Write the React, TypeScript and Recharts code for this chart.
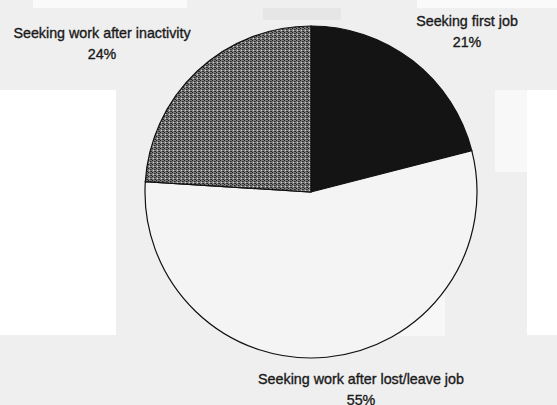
import React from "react";
import { PieChart, Pie, Cell } from "recharts";

const categories = [
  "Seeking first job",
  "Seeking work after lost/leave job",
  "Seeking work after inactivity",
];
const shares = [21, 55, 24];
const fills = ["#141414", "#f4f4f4", "url(#stipple)"];

const data = categories.map((name, i) => ({ name, value: shares[i] }));

// label placement relative to the pie centre (dx, dy), kept apart from data
const labelOffsets: Record<string, [number, number]> = {
  "Seeking first job": [156, -166.5],
  "Seeking work after lost/leave job": [50, 192],
  "Seeking work after inactivity": [-209, -154.5],
};

const bgBlocks: Array<[number, number, number, number, string]> = [
  [0, 90, 116, 245, "#ffffff"],
  [33, 0, 154, 8, "#fafafa"],
  [417, 0, 140, 8, "#fafafa"],
  [280, 253, 83, 83, "#ffffff"],
  [363, 175, 82, 161, "#f7f7f7"],
  [527, 90, 30, 245, "#ffffff"],
  [495, 90, 32, 82, "#f8f8f8"],
  [263, 8, 78, 12, "#e6e6e6"],
];

const renderLabel = (props: any) => {
  const { cx, cy, name, value } = props;
  const off = labelOffsets[name] || [0, 0];
  const x = cx + off[0];
  const y = cy + off[1];
  return (
    <text
      x={x}
      y={y}
      textAnchor="middle"
      fill="#1a1a1a"
      stroke="#1a1a1a"
      strokeWidth={0.35}
      fontSize={14.3}
      fontFamily="'Liberation Sans', Arial, sans-serif"
    >
      <tspan x={x} dy={0}>{name}</tspan>
      <tspan x={x} dy={21}>{value}%</tspan>
    </text>
  );
};

export default function App() {
  return (
    <div
      style={{
        position: "absolute",
        left: 0,
        top: 0,
        width: 557,
        height: 405,
        background: "#efefef",
        overflow: "hidden",
      }}
    >
      {bgBlocks.map(([x, y, w, h, c], i) => (
        <div
          key={i}
          style={{ position: "absolute", left: x, top: y, width: w, height: h, background: c }}
        />
      ))}
      <div style={{ position: "absolute", left: 0, top: 0 }}>
        <PieChart width={557} height={405} margin={{ top: 0, right: 0, bottom: 0, left: 0 }}>
          <defs>
            <pattern id="stipple" width="4" height="4" patternUnits="userSpaceOnUse">
              <rect width="4" height="4" fill="#7c7c7c" />
              <rect x="0" y="0" width="1" height="1" fill="#1e1e1e" />
              <rect x="2" y="1" width="1" height="1" fill="#2a2a2a" />
              <rect x="1" y="2" width="1" height="1" fill="#d8d8d8" />
              <rect x="3" y="3" width="1" height="1" fill="#222" />
              <rect x="2" y="3" width="1" height="1" fill="#3c3c3c" />
              <rect x="3" y="1" width="1" height="1" fill="#4a4a4a" />
            </pattern>
          </defs>
          <Pie
            data={data}
            dataKey="value"
            nameKey="name"
            cx={311}
            cy={192}
            outerRadius={166}
            startAngle={90}
            endAngle={-270}
            stroke="#111"
            strokeWidth={1.2}
            label={renderLabel}
            labelLine={false}
            isAnimationActive={false}
          >
            {data.map((d, i) => (
              <Cell key={d.name} fill={fills[i]} />
            ))}
          </Pie>
        </PieChart>
      </div>
    </div>
  );
}
